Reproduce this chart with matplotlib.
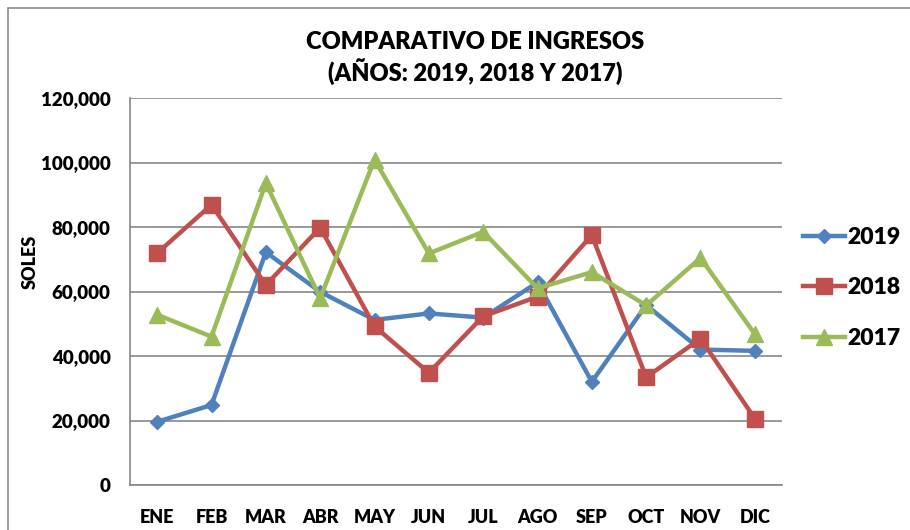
import matplotlib
matplotlib.use("Agg")
import matplotlib.pyplot as plt
from matplotlib.patches import Rectangle
from matplotlib.ticker import FuncFormatter

plt.rcParams['font.family'] = ['Lato', 'DejaVu Sans']
WT = 'heavy'
plt.rcParams['font.weight'] = WT

months = ["ENE", "FEB", "MAR", "ABR", "MAY", "JUN", "JUL", "AGO", "SEP", "OCT", "NOV", "DIC"]
s2019 = [19600, 24800, 72200, 59900, 51200, 53200, 51900, 62800, 32000, 55800, 42000, 41600]
s2018 = [71900, 86900, 62000, 79800, 49200, 34800, 52300, 58400, 77500, 33400, 45400, 20600]
s2017 = [52800, 46000, 93600, 57900, 100900, 71800, 78500, 61000, 66000, 55700, 70400, 46800]
yticks = [0, 20000, 40000, 60000, 80000, 100000, 120000]

W, H = 910, 530
fig = plt.figure(figsize=(W / 100, H / 100), dpi=100)
ax = fig.add_axes([130 / W, 1 - 485 / H, (782 - 130) / W, (485 - 98) / H])

x = list(range(len(months)))
ax.plot(x, s2019, color='#4F81BD', lw=3.2, marker='D', ms=7.5, label='2019', zorder=3)
ax.plot(x, s2018, color='#C0504D', lw=3.2, marker='s', ms=11, label='2018', zorder=3)
ax.plot(x, s2017, color='#9BBB59', lw=3.2, marker='^', ms=12, label='2017', zorder=3)

ax.set_xlim(-0.5, len(months) - 0.5)
ax.set_ylim(0, 120000)
ax.set_yticks(yticks)
ax.yaxis.set_major_formatter(FuncFormatter(lambda v, p: f"{int(v):,}"))
ax.set_xticks(x)
ax.set_xticklabels(months)
ax.tick_params(axis='both', length=0, labelsize=13)
ax.tick_params(axis='y', pad=14, labelsize=13.5)
ax.tick_params(axis='x', pad=17)
for lab in ax.get_xticklabels() + ax.get_yticklabels():
    lab.set_fontweight(WT)

ax.grid(axis='y', color='#878787', lw=1.2)
ax.set_axisbelow(True)
for s in ['top', 'right']:
    ax.spines[s].set_visible(False)
ax.spines['left'].set_color('#878787')
ax.spines['bottom'].set_color('#878787')
ax.spines['left'].set_linewidth(1.2)
ax.spines['bottom'].set_linewidth(1.2)

leg = ax.legend(loc='center left', bbox_to_anchor=(792 / W, 1 - 288 / H),
                bbox_transform=fig.transFigure, frameon=False,
                prop={'size': 16.5, 'weight': WT}, handlelength=1.8,
                handletextpad=0.1, labelspacing=1.3, borderpad=0)

fig.text(475 / W, 1 - 42 / H, "COMPARATIVO DE INGRESOS", ha='center', va='center',
         fontsize=17, fontweight=WT)
fig.text(475 / W, 1 - 72 / H, "(AÑOS: 2019, 2018 Y 2017)", ha='center', va='center',
         fontsize=17, fontweight=WT)
fig.text(30 / W, 1 - 262 / H, "SOLES", rotation=90, ha='center', va='center',
         fontsize=13, fontweight=WT)

fig.patches.append(Rectangle((8 / W, -0.1), 1.2, 1 - 8 / H + 0.1, transform=fig.transFigure,
                             fill=False, edgecolor='#8c8c8c', lw=1.2))

fig.savefig("out.png", dpi=100)
